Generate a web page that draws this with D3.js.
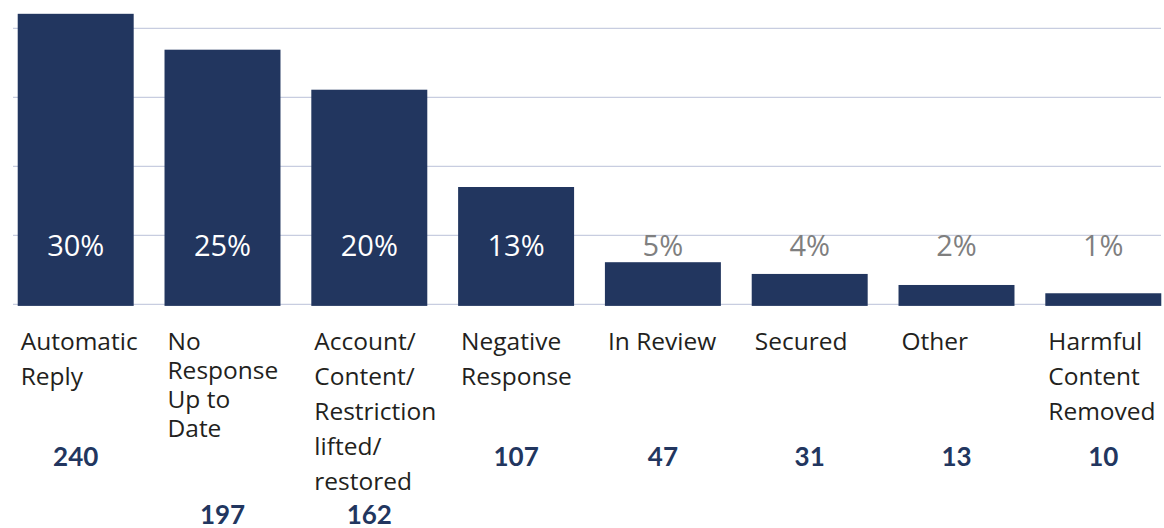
<!DOCTYPE html>
<html>
<head>
<meta charset="utf-8">
<script src="https://cdn.jsdelivr.net/npm/d3@7"></script>
<style>
  html, body { margin: 0; padding: 0; background: #fff; }
  svg { display: block; }
</style>
</head>
<body>
<svg id="chart" width="1164" height="528"></svg>
<script>
// ---- data ----
const categories = [
  ["Automatic", "Reply"],
  ["No", "Response", "Up to", "Date"],
  ["Account/", "Content/", "Restriction", "lifted/", "restored"],
  ["Negative", "Response"],
  ["In Review"],
  ["Secured"],
  ["Other"],
  ["Harmful", "Content", "Removed"]
];
const counts = [240, 197, 162, 107, 47, 31, 13, 10];
const percentLabels = ["30%", "25%", "20%", "13%", "5%", "4%", "2%", "1%"];
// bar heights as drawn in the picture (gridline units 0..40)
const barLevels = [42.1, 36.9, 31.1, 17.0, 6.1, 4.4, 2.8, 1.6];
const gridTicks = [0, 10, 20, 30, 40];

// ---- layout ----
const svg = d3.select("#chart");
const navy = "#22365F";
const labelFont = "'Open Sans', 'Noto Sans', sans-serif";

const x = d3.scaleBand()
  .domain(d3.range(counts.length))
  .range([2.3, 1176.7])
  .paddingInner(0.21)
  .paddingOuter(0.105);

const y = d3.scaleLinear().domain([0, 40]).range([304.3, 28.3]);

// gridlines
svg.append("g").selectAll("line").data(gridTicks).join("line")
  .attr("x1", 13).attr("x2", 1161)
  .attr("y1", d => y(d)).attr("y2", d => y(d))
  .attr("stroke", "#c8cde0").attr("stroke-width", 1.2);

// bars
svg.append("g").selectAll("rect").data(barLevels).join("rect")
  .attr("x", (d, i) => x(i))
  .attr("width", x.bandwidth())
  .attr("y", d => y(d))
  .attr("height", d => y(0) - y(d) + 1.6)
  .attr("fill", navy);

// percent labels
svg.append("g").selectAll("text").data(percentLabels).join("text")
  .attr("x", (d, i) => x(i) + x.bandwidth() / 2)
  .attr("y", 255.5)
  .attr("text-anchor", "middle")
  .attr("font-family", labelFont)
  .attr("font-size", 29)
  .attr("fill", (d, i) => y(barLevels[i]) < 225 ? "#ffffff" : "#7f7f7f")
  .text(d => d);

// category labels
const catG = svg.append("g");
categories.forEach((lines, i) => {
  const gap = lines.length === 4 ? 29 : 35;
  const lx = x(i) + 3;
  const t = catG.append("text")
    .attr("x", lx)
    .attr("y", 350)
    .attr("font-family", labelFont)
    .attr("font-size", 24.5)
    .attr("fill", "#231f20");
  lines.forEach((ln, j) => {
    t.append("tspan").attr("x", lx).attr("y", 350 + j * gap).text(ln);
  });
});

// counts
svg.append("g").selectAll("text").data(counts).join("text")
  .attr("x", (d, i) => x(i) + x.bandwidth() / 2)
  .attr("y", (d, i) => categories[i].length > 3 ? 524 : 466)
  .attr("text-anchor", "middle")
  .attr("font-family", "Lato, 'Open Sans', sans-serif")
  .attr("font-weight", 700)
  .attr("font-size", 26)
  .attr("fill", navy)
  .text(d => d);
</script>
</body>
</html>
